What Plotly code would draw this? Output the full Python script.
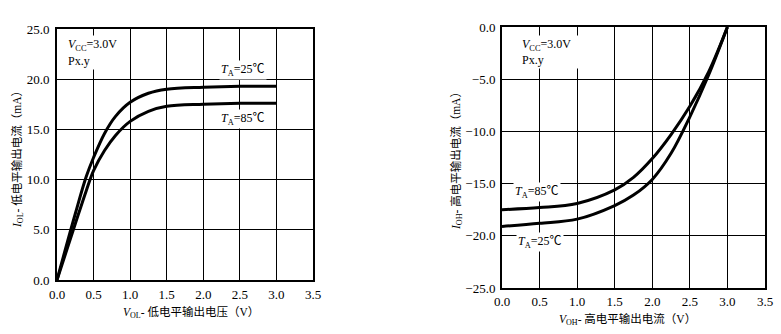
import plotly.graph_objects as go

# Left chart: low-level output current vs voltage (mA vs V)
vol = [0, 0.25, 0.4, 0.5, 0.65, 0.8, 1.0, 1.25, 1.5, 2.0, 2.5, 3.0]
iol_25 = [0, 6.6, 10.3, 12.2, 14.6, 16.3, 17.7, 18.6, 19.0, 19.2, 19.3, 19.3]
iol_85 = [0, 5.6, 8.9, 10.9, 12.9, 14.4, 15.8, 16.8, 17.3, 17.5, 17.6, 17.6]

# Right chart: high-level output current vs voltage (mA vs V)
voh = [0, 0.5, 1.0, 1.5, 1.75, 2.0, 2.25, 2.5, 2.75, 3.0]
ioh_25 = [-19.1, -18.8, -18.4, -17.1, -16.1, -14.6, -12.1, -8.6, -4.6, 0]
ioh_85 = [-17.5, -17.3, -16.9, -15.6, -14.4, -12.6, -10.3, -7.6, -4.3, 0]

x_ticks = [0, 0.5, 1.0, 1.5, 2.0, 2.5, 3.0, 3.5]
yl_ticks = [0, 5, 10, 15, 20, 25]
yr_ticks = [0, -5, -10, -15, -20, -25]

FONT = "Liberation Serif, Noto Sans CJK SC, serif"
W, H = 781, 334

fig = go.Figure()
line = dict(color="black", width=3, shape="spline", smoothing=1.0)
fig.add_trace(go.Scatter(x=vol, y=iol_25, mode="lines", line=line, xaxis="x", yaxis="y", showlegend=False))
fig.add_trace(go.Scatter(x=vol, y=iol_85, mode="lines", line=line, xaxis="x", yaxis="y", showlegend=False))
fig.add_trace(go.Scatter(x=voh, y=ioh_25, mode="lines", line=line, xaxis="x2", yaxis="y2", showlegend=False))
fig.add_trace(go.Scatter(x=voh, y=ioh_85, mode="lines", line=line, xaxis="x2", yaxis="y2", showlegend=False))

axis_common = dict(showgrid=True, gridcolor="black", gridwidth=1.2, zeroline=False,
                   showline=True, linecolor="black", linewidth=2, mirror=True,
                   ticks="", automargin=False,
                   tickfont=dict(family=FONT, size=13, color="black"),
                   tickformat=".1f")

fig.update_layout(
    template="none",
    width=W, height=H, margin=dict(l=0, r=0, t=0, b=0, pad=0, autoexpand=False),
    paper_bgcolor="white", plot_bgcolor="white",
    font=dict(family=FONT, color="black", size=12),
    xaxis=dict(domain=[57 / W, 313 / W], range=[0, 3.5], tickvals=x_ticks, anchor="y",
               ticklabelstandoff=1, **axis_common),
    yaxis=dict(domain=[1 - 280 / H, 1 - 29 / H], range=[0, 25], tickvals=yl_ticks, anchor="x",
               ticklabelstandoff=3, **axis_common),
    xaxis2=dict(domain=[502 / W, 765 / W], range=[0, 3.5], tickvals=x_ticks, anchor="y2",
                ticklabelstandoff=0, **axis_common),
    yaxis2=dict(domain=[1 - 288 / H, 1 - 27 / H], range=[-25, 0], tickvals=yr_ticks, anchor="x2",
                ticklabelstandoff=2, **axis_common),
)

ann = []
def A(text, x, y, xref, yref, xanchor="center", yanchor="middle", align="center",
      bg="white", angle=0, size=12, width=None):
    d = dict(text=text, x=x, y=y, xref=xref, yref=yref, xanchor=xanchor, yanchor=yanchor,
             align=align, showarrow=False, textangle=angle,
             font=dict(family=FONT, size=size, color="black"), borderpad=1)
    if bg:
        d["bgcolor"] = bg
    if width:
        d["width"] = width
    ann.append(d)

# condition labels (white boxes break the grid lines, as in the reference)
A("<i>V</i><sub>CC</sub>=3.0V", 0.12, 24.4, "x", "y", xanchor="left", yanchor="top", align="left", width=54)
A("Px.y", 0.12, 22.7, "x", "y", xanchor="left", yanchor="top", align="left", width=54)
A("<i>T</i><sub>A</sub>=25℃", 2.54, 20.9, "x", "y")
A("<i>T</i><sub>A</sub>=85℃", 2.54, 16.0, "x", "y")
A("<i>V</i><sub>CC</sub>=3.0V", 0.24, -0.8, "x2", "y2", xanchor="left", yanchor="top", align="left", width=56)
A("Px.y", 0.24, -2.3, "x2", "y2", xanchor="left", yanchor="top", align="left", width=56)
A("<i>T</i><sub>A</sub>=85℃", 0.46, -15.8, "x2", "y2")
A("<i>T</i><sub>A</sub>=25℃", 0.50, -20.6, "x2", "y2")

# axis titles
A("<i>I</i><sub>OL</sub>- 低电平输出电流（mA）", 17 / W, 1 - 157 / H, "paper", "paper", bg=None, angle=-90, size=11.5)
A("<i>I</i><sub>OH</sub>- 高电平输出电流（mA）", 456 / W, 1 - 158 / H, "paper", "paper", bg=None, angle=-90, size=11.5)
A("<i>V</i><sub>OL</sub>- 低电平输出电压（V）", 191 / W, 1 - 312 / H, "paper", "paper", bg=None, size=11.5)
A("<i>V</i><sub>OH</sub>- 高电平输出电流（V）", 627 / W, 1 - 319 / H, "paper", "paper", bg=None, size=11.5)

fig.update_layout(annotations=ann)

fig.write_html("out.html")
